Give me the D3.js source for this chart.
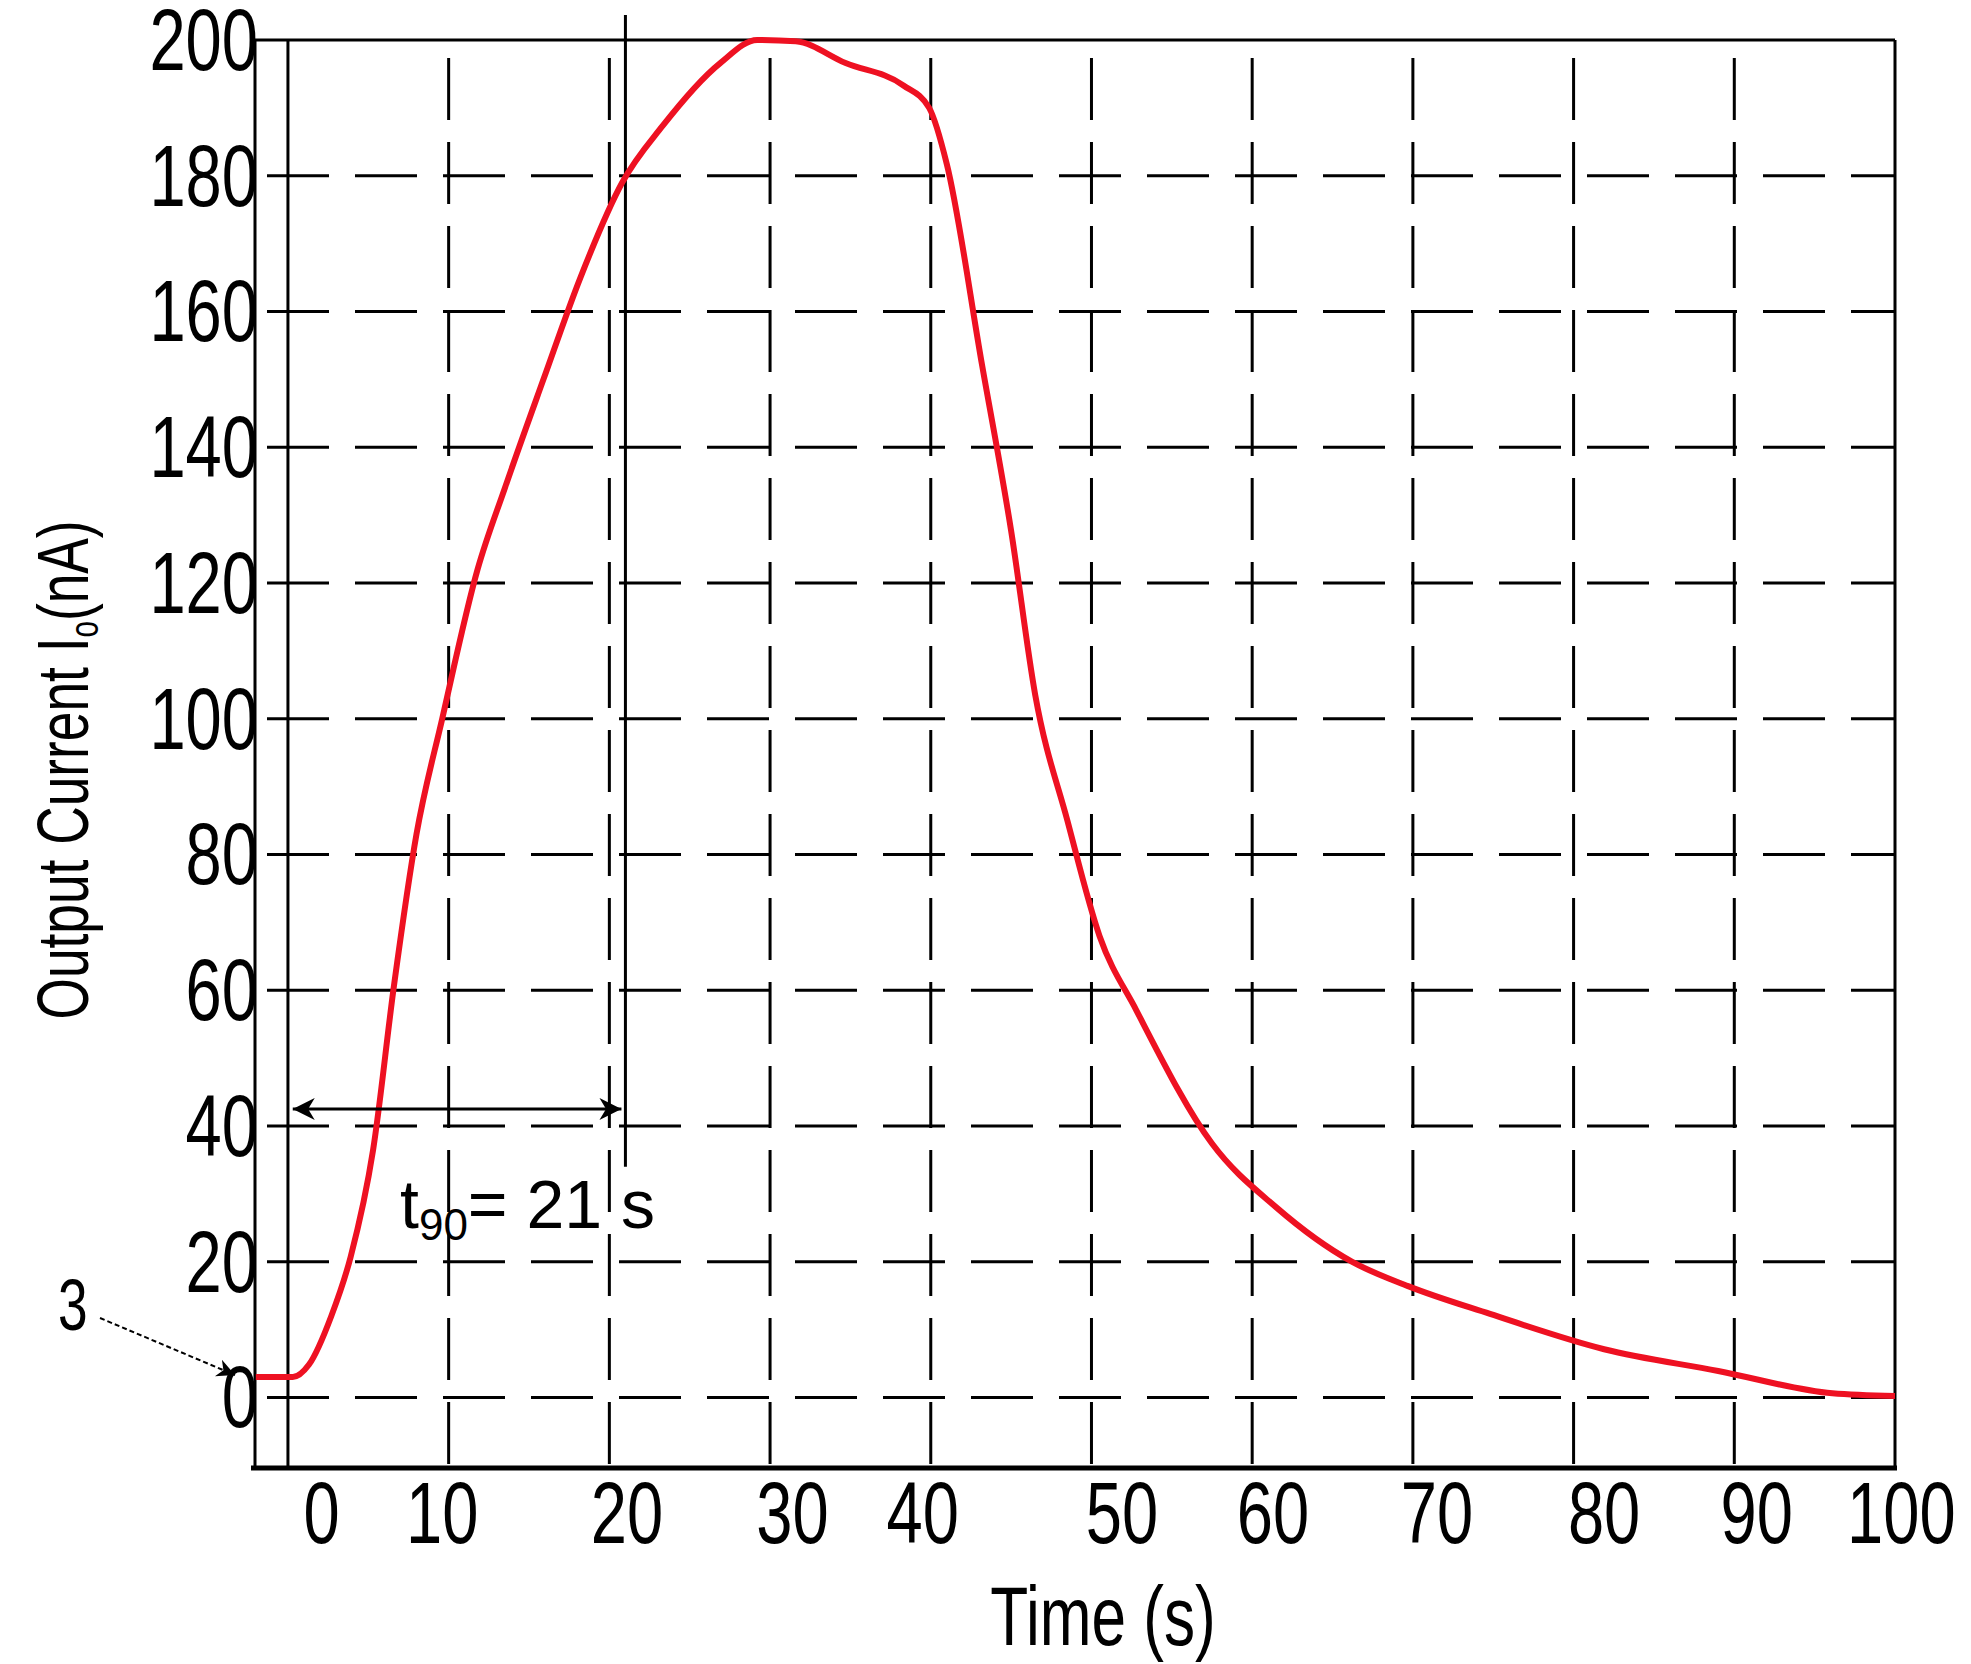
<!DOCTYPE html>
<html><head><meta charset="utf-8">
<script src="https://cdn.jsdelivr.net/npm/d3@7"></script>
<style>body{margin:0;background:#fff}</style>
</head><body>
<svg id="chart" width="1971" height="1664"></svg>
<script>
// data
var timeS = [-2, 0.3, 1.3, 2.7, 3.9, 5.3, 6.6, 8.0, 9.6, 11.8, 13.5, 15.9, 18.2, 20.8, 23.3, 26.9, 29.2, 31.6, 34.7, 38.3, 39.9, 41.0, 43.2, 45.0, 46.5, 48.5, 50.5, 52.8, 57.5, 61.5, 66.2, 69.7, 74.8, 81.9, 89, 96.1, 100];
var currentNA = [3, 3, 4.8, 12, 20.7, 36.5, 60.7, 83, 100, 122, 134, 150, 165, 179, 187.3, 196.6, 200, 199.8, 196.6, 193.3, 190, 181.7, 152, 127.7, 103.5, 85, 68, 57, 37.4, 28, 20, 16.4, 12.3, 7.1, 3.9, 0.6, 0.2];
var yTicks = [0, 20, 40, 60, 80, 100, 120, 140, 160, 180, 200];
var xGrid = [0, 10, 20, 30, 40, 50, 60, 70, 80, 90, 100];
var xLabels = ["0", "10", "20", "30", "40", "50", "60", "70", "80", "90", "100"];
var xLabelAt = [2.1, 9.6, 21.1, 31.4, 39.5, 51.9, 61.3, 71.5, 81.9, 91.4, 100.4];
var t90 = 21;

var svg = d3.select('#chart');
var x = d3.scaleLinear().domain([-2.05, 100]).range([255, 1895]);
var y = d3.scaleLinear().domain([-10.4, 200]).range([1468, 40]);
var font = '"Liberation Sans", Arial, sans-serif';
var squeeze = 0.74;

// condensed text, like the picture's narrow Arial
function label(px, py, str, size, anchor, rot) {
    return svg.append('text')
        .attr('transform', 'translate(' + px + ',' + py + ')' + (rot ? ' rotate(' + rot + ')' : '') + ' scale(' + squeeze + ',1)')
        .attr('text-anchor', anchor)
        .style('font-family', font).style('font-size', size + 'px')
        .text(str);
}

// horizontal grid
svg.selectAll('line.hg').data(yTicks.filter(function(d) { return d < 200; }))
    .enter().append('line')
    .attr('x1', x(-2.05)).attr('x2', x(100))
    .attr('y1', function(d) { return y(d); }).attr('y2', function(d) { return y(d); })
    .attr('stroke', '#000').attr('stroke-width', 3)
    .attr('stroke-dasharray', '62,26').attr('stroke-dashoffset', -12);

// vertical grid
svg.selectAll('line.vg').data(xGrid.slice(1, 10))
    .enter().append('line')
    .attr('x1', function(d) { return x(d); }).attr('x2', function(d) { return x(d); })
    .attr('y1', y(200)).attr('y2', y(-10.4))
    .attr('stroke', '#000').attr('stroke-width', 3)
    .attr('stroke-dasharray', '62,22').attr('stroke-dashoffset', -18);

// solid frame lines
[[x(-2.05), y(200), x(100), y(200)],
 [x(-2.05), y(200), x(-2.05), y(-10.4)],
 [x(100), y(200), x(100), y(-10.4)],
 [x(0), y(200), x(0), y(-10.4)],
 [x(t90), 15, x(t90), y(34)]].forEach(function(l) {
    svg.append('line').attr('x1', l[0]).attr('y1', l[1]).attr('x2', l[2]).attr('y2', l[3])
        .attr('stroke', '#000').attr('stroke-width', 3);
});
svg.append('line').attr('x1', x(-2.05) - 4).attr('x2', x(100) + 2)
    .attr('y1', y(-10.4)).attr('y2', y(-10.4))
    .attr('stroke', '#000').attr('stroke-width', 5);

// y tick labels
yTicks.forEach(function(d) { label(258, y(d) + 30, d, 88, 'end'); });

// x tick labels
xLabels.forEach(function(d, i) { label(x(xLabelAt[i]), 1543, d, 88, 'middle'); });

// axis titles
label(1103, 1645, 'Time (s)', 84, 'middle');
var yt = label(88, 770, '', 72, 'middle', -90);
yt.append('tspan').text('Output Current I');
yt.append('tspan').attr('dy', 10).style('font-size', '40px').text('o');
yt.append('tspan').attr('dy', -10).text('(nA)');

// curve
var line = d3.line()
    .x(function(d, i) { return x(timeS[i]); })
    .y(function(d) { return y(d); })
    .curve(d3.curveMonotoneX);
svg.append('path').datum(currentNA).attr('d', line)
    .attr('fill', 'none').attr('stroke', '#ee1122').attr('stroke-width', 6);

// markers
var defs = svg.append('defs');
defs.append('marker').attr('id', 'ah').attr('viewBox', '0 0 10 10').attr('refX', 10).attr('refY', 5)
    .attr('markerWidth', 30).attr('markerHeight', 18).attr('markerUnits', 'userSpaceOnUse')
    .attr('orient', 'auto-start-reverse')
    .append('path').attr('d', 'M0,0L10,5L0,10L3,5z').attr('fill', '#000');
defs.append('marker').attr('id', 'ah2').attr('viewBox', '0 0 10 10').attr('refX', 10).attr('refY', 5)
    .attr('markerWidth', 34).attr('markerHeight', 22).attr('markerUnits', 'userSpaceOnUse')
    .attr('orient', 'auto-start-reverse')
    .append('path').attr('d', 'M0,0L10,5L0,10L3,5z').attr('fill', '#000');

// t90 double arrow
var ay = y(42.5);
svg.append('line').attr('x1', x(0.3)).attr('x2', x(t90) - 4).attr('y1', ay).attr('y2', ay)
    .attr('stroke', '#000').attr('stroke-width', 3)
    .attr('marker-start', 'url(#ah2)').attr('marker-end', 'url(#ah2)');
var tt = svg.append('text').attr('x', 400).attr('y', 1228)
    .style('font-family', font).style('font-size', '68px');
tt.append('tspan').text('t');
tt.append('tspan').attr('dy', 12).style('font-size', '44px').text('90');
tt.append('tspan').attr('dy', -12).text('= 21 s');

// "3" annotation
label(58, 1330, '3', 72, 'start');
svg.append('line').attr('x1', 100).attr('y1', 1318).attr('x2', x(-2.05) - 20).attr('y2', y(3) - 2)
    .attr('stroke', '#000').attr('stroke-width', 2).attr('stroke-dasharray', '5,3')
    .attr('marker-end', 'url(#ah)');
</script>
</body></html>
